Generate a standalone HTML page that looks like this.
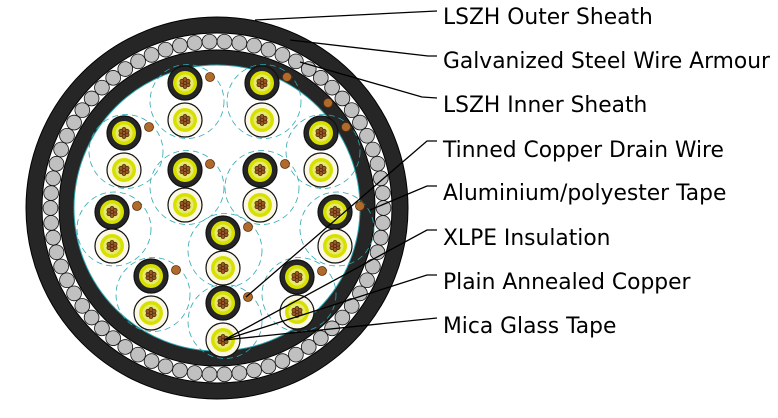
<!DOCTYPE html>
<html><head><meta charset="utf-8"><style>
html,body{margin:0;padding:0;background:#fff;width:778px;height:418px;overflow:hidden}
text{font-family:"DejaVu Sans","Liberation Sans",sans-serif;font-size:21.8px;fill:#000}
</style></head><body>
<svg id="s" width="778" height="418" viewBox="0 0 778 418" xmlns="http://www.w3.org/2000/svg">
<circle cx="217" cy="208" r="191" fill="#262626" stroke="#000" stroke-width="1"/>
<circle cx="217" cy="208" r="175" fill="#fff" stroke="#000" stroke-width="1"/>
<g id="arm"></g>
<circle cx="217" cy="208" r="158" fill="#262626" stroke="#000" stroke-width="1"/>
<circle cx="217" cy="208" r="143" fill="#fff" stroke="#2aa9b0" stroke-width="1"/>
<g id="pairs"></g>
<g stroke="#000" stroke-width="1.3" fill="none">
<polyline points="437,11 255,20"/>
<polyline points="437,56 428,56 290,40"/>
<polyline points="437,98 422,97 300,62"/>
<polyline points="437,141 427,141 246,297"/>
<polyline points="437,186 427,186 370,210"/>
<polyline points="437,230 427,230 224,340"/>
<polyline points="437,275 427,275 224,340"/>
<polyline points="437,318 224,340"/>
</g>
<text x="443" y="24">LSZH Outer Sheath</text>
<text x="443" y="68">Galvanized Steel Wire Armour</text>
<text x="443" y="112">LSZH Inner Sheath</text>
<text x="443" y="157">Tinned Copper Drain Wire</text>
<text x="443" y="200">Aluminium/polyester Tape</text>
<text x="443" y="245">XLPE Insulation</text>
<text x="443" y="289">Plain Annealed Copper</text>
<text x="443" y="333">Mica Glass Tape</text>
</svg>
<script>
var NS="http://www.w3.org/2000/svg";
function el(p,t,a){var e=document.createElementNS(NS,t);for(var k in a)e.setAttribute(k,a[k]);p.appendChild(e);return e;}
var arm=document.getElementById('arm');
var N=70;
for(var i=0;i<N;i++){var a=2*Math.PI*i/N;el(arm,'circle',{cx:217+166.5*Math.cos(a),cy:208+166.5*Math.sin(a),r:7.4,fill:'#c0c0c0',stroke:'#111','stroke-width':0.8});}
var pg=document.getElementById('pairs');
var P=[[185,83,120],[262,83,120],[124,133,170],[321,133,170],[185,170,205],[260,170,205],[112,212,246],[335,212,246],[223,233,268],[151,276,313],[297,277,312],[223,303,340]];
function core(x,y,black){
 el(pg,'circle',{cx:x,cy:y,r:17,fill:black?'#262626':'#fbf7e6',stroke:'#111','stroke-width':1.2});
 el(pg,'circle',{cx:x,cy:y,r:12,fill:'#d8e000',stroke:'none'});
 el(pg,'circle',{cx:x,cy:y,r:8.5,fill:'#e6ea70',stroke:'none'});
 var pts=[[0,0]];for(var k=0;k<6;k++){var a=Math.PI/6+k*Math.PI/3;pts.push([3.6*Math.cos(a),3.6*Math.sin(a)]);}
 pts.forEach(function(p){el(pg,'circle',{cx:x+p[0],cy:y+p[1],r:2,fill:'#9a5a25',stroke:'#3a1a05','stroke-width':0.6});});
}
P.forEach(function(p){var x=p[0],cy=(p[1]+p[2])/2;
 el(pg,'circle',{cx:x+2,cy:cy,r:37,fill:'none',stroke:'#2aa9b0','stroke-width':0.8,'stroke-dasharray':'6,4'});});
P.forEach(function(p){var x=p[0];core(x,p[1],true);core(x,p[2],false);
 el(pg,'circle',{cx:x+25,cy:p[1]-6,r:4.5,fill:'#b06a2a',stroke:'#5a3010','stroke-width':0.8});});
el(pg,'circle',{cx:328,cy:103,r:4.5,fill:'#b06a2a',stroke:'#5a3010','stroke-width':0.8});
</script>
</body></html>
